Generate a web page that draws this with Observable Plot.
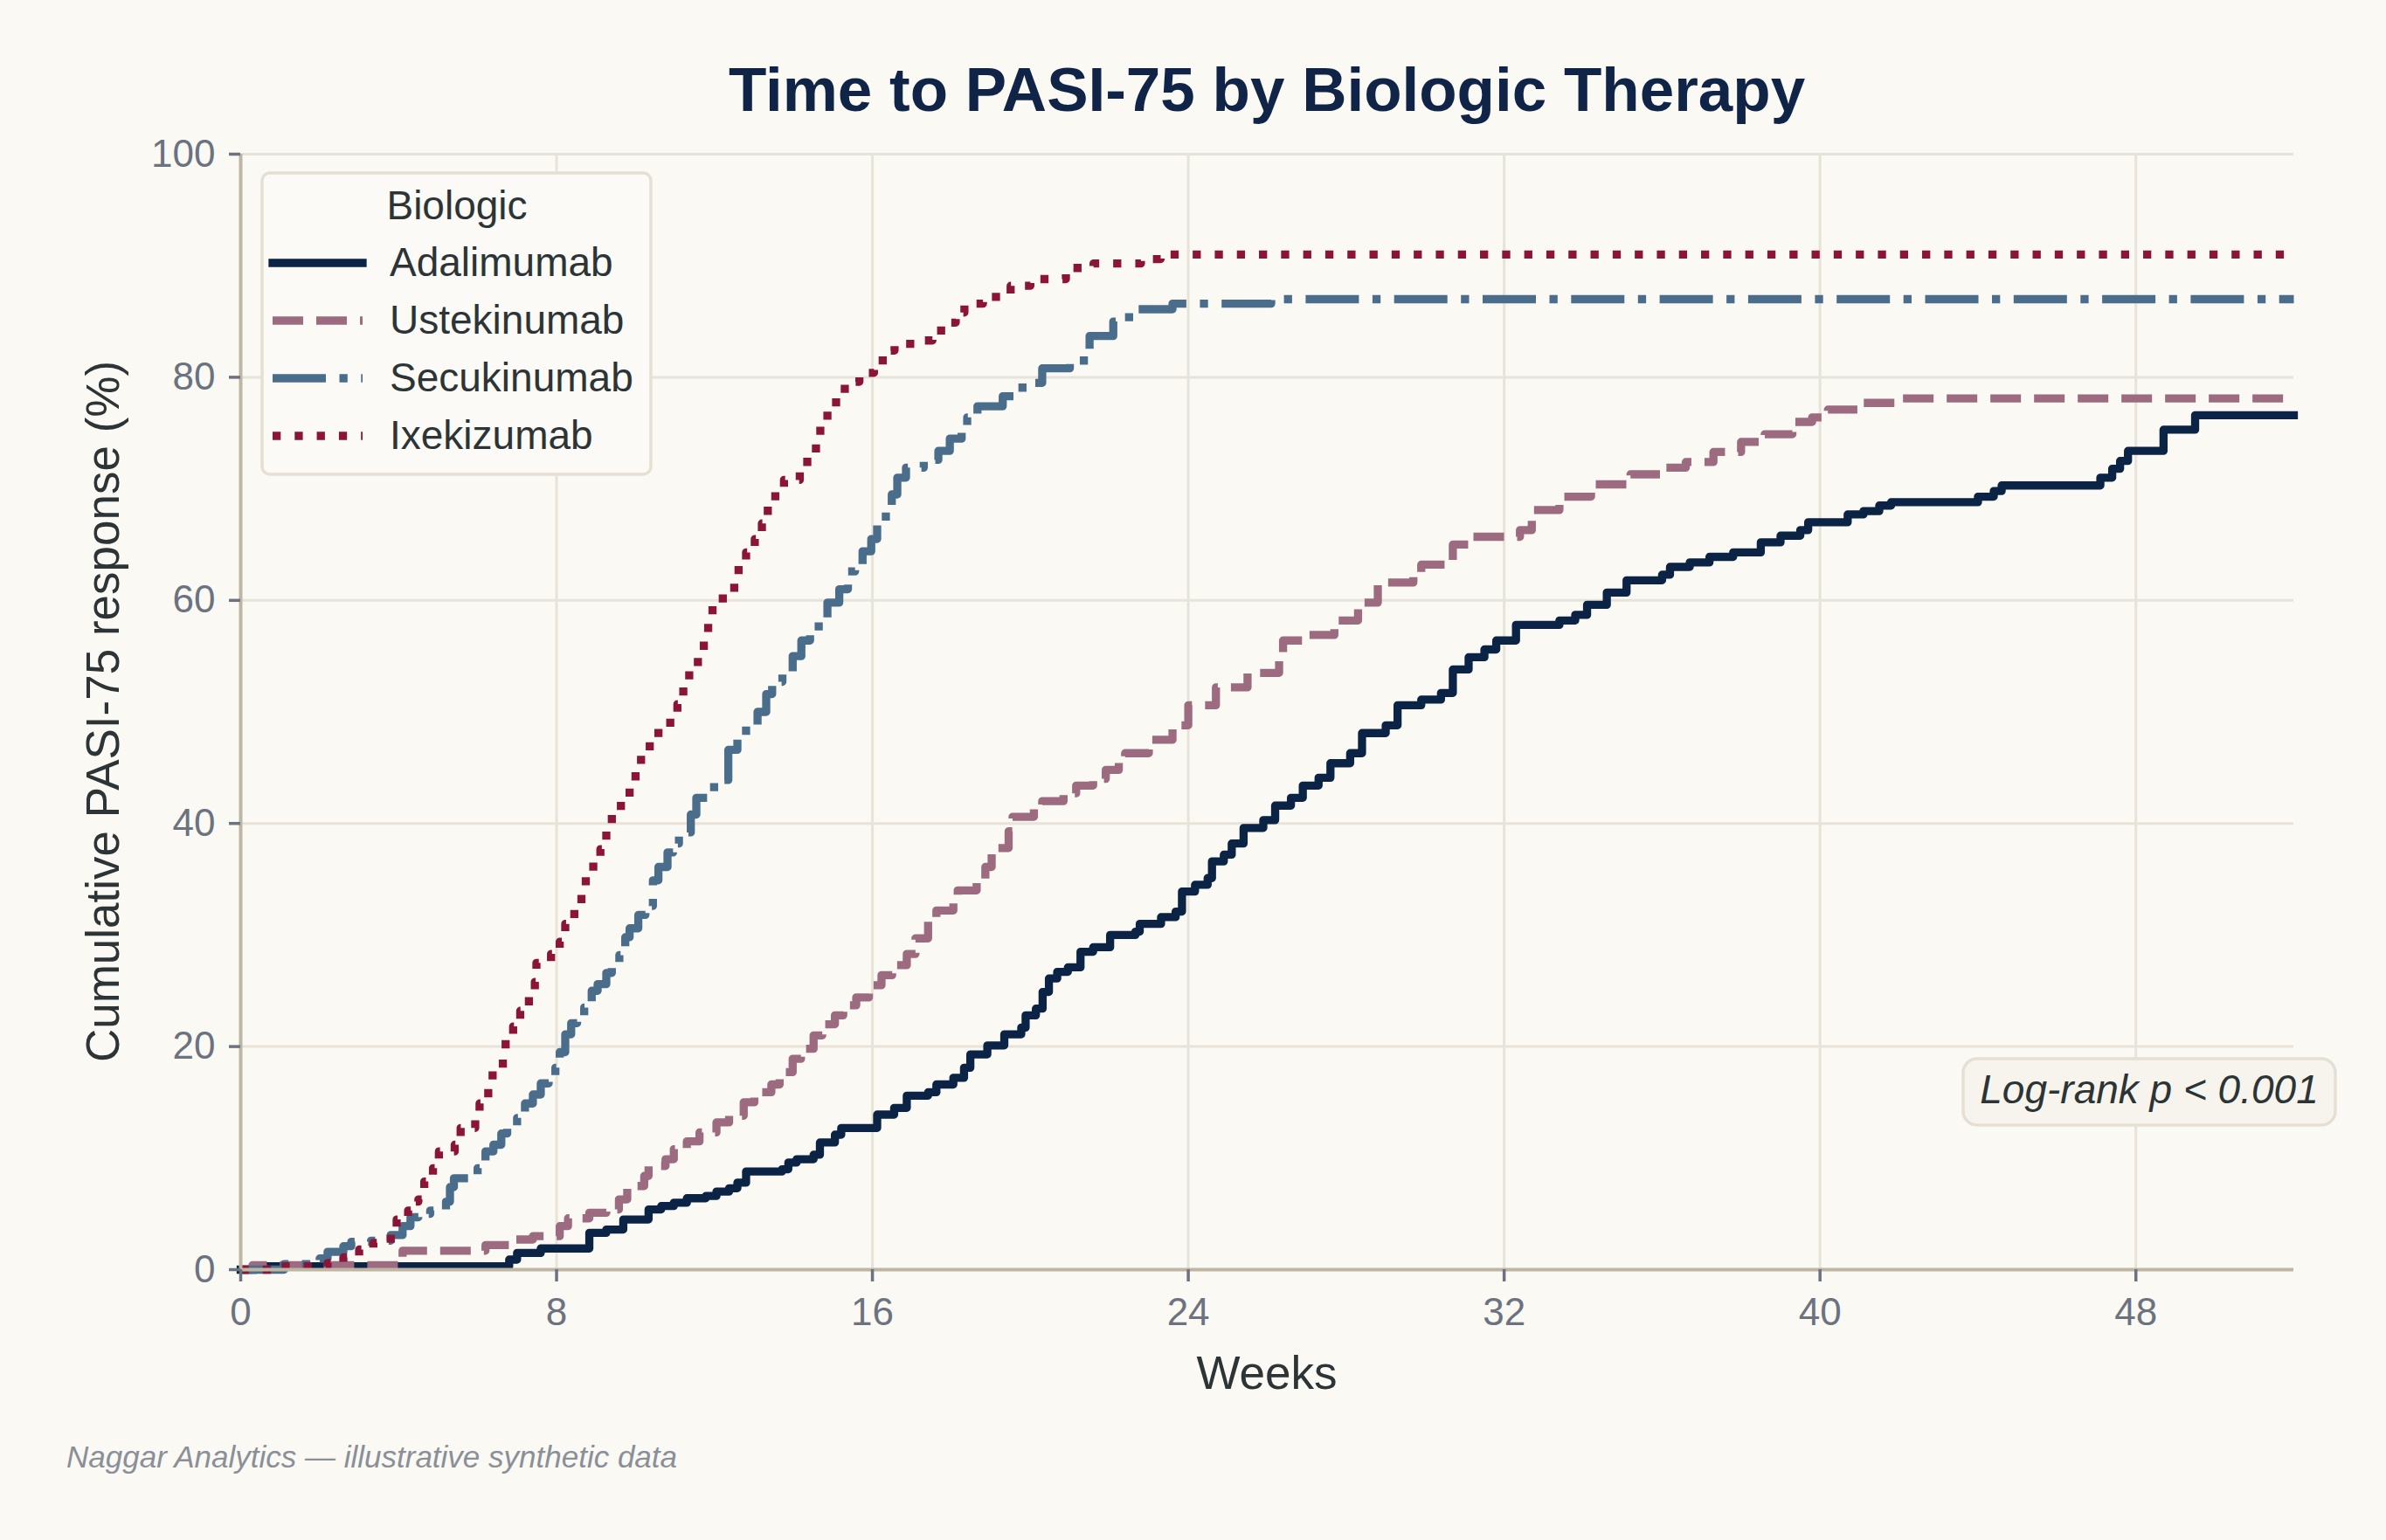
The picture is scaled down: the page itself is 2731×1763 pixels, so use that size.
<!DOCTYPE html>
<html><head><meta charset="utf-8">
<script src="https://cdn.jsdelivr.net/npm/d3@7"></script>
<script src="https://cdn.jsdelivr.net/npm/@observablehq/plot@0.6"></script>
<style>
html,body{margin:0;padding:0;background:#faf9f4;overflow:hidden;}
#chart svg{display:block;}
</style></head><body><div id="chart"></div>
<script>
// ---------- data ----------
const seriesNames = ["Adalimumab", "Ustekinumab", "Secukinumab", "Ixekizumab"];

const adalimumabWeeks = [0,0.4,6.8,7.0,7.6,8.83,9.26,9.69,10.33,10.65,10.97,11.3,11.78,12.05,12.37,12.58,12.8,13.71,13.87,14.08,14.51,14.67,15.05,15.21,16.12,16.55,16.87,17.41,17.62,18.05,18.32,18.48,18.91,19.34,19.77,19.88,20.14,20.31,20.47,20.68,20.95,21.27,21.59,22.02,22.66,22.77,23.31,23.68,23.84,24.17,24.49,24.6,24.9,25.1,25.4,25.9,26.2,26.6,26.9,27.3,27.6,28.1,28.4,29.0,29.3,29.9,30.4,30.7,31.1,31.5,31.8,32.3,33.4,33.8,34.1,34.6,35.1,36.0,36.2,36.7,37.2,37.8,38.5,39.0,39.5,39.7,40.7,41.1,41.5,41.8,44.0,44.4,44.6,47.1,47.4,47.6,47.8,48.7,49.5,52];
const adalimumabPct   = [0,0.3,0.9,1.5,1.9,3.3,3.6,4.5,5.4,5.7,6.0,6.4,6.6,7.0,7.3,7.8,8.8,9.0,9.6,9.9,10.3,11.4,12.1,12.7,13.9,14.5,15.6,15.9,16.6,17.2,18.1,19.3,20.1,21.1,21.7,22.8,23.4,24.9,26.1,26.7,27.1,28.5,28.9,30.0,30.3,31.0,31.6,32.1,33.9,34.5,35.1,36.6,37.2,38.2,39.6,40.3,41.6,42.3,43.4,44.1,45.4,46.3,48.1,48.8,50.6,51.1,51.7,53.8,54.9,55.6,56.4,57.8,58.2,58.7,59.6,60.7,61.8,62.3,63.0,63.4,63.9,64.3,65.2,65.8,66.3,67.0,67.7,68.0,68.5,68.8,69.3,69.8,70.3,71.0,71.8,72.5,73.4,75.3,76.6,76.6];

const ustekinumabWeeks = [0,0.3,4.1,6.2,6.8,7.4,8.08,8.29,8.83,9.26,9.58,9.79,10.22,10.33,10.76,10.97,11.3,11.62,12.05,12.37,12.74,13.01,13.44,13.65,13.98,14.19,14.51,14.73,15.05,15.26,15.59,15.91,16.23,16.5,16.87,17.09,17.41,17.62,18.05,18.16,18.64,18.86,19.02,19.45,19.55,20.09,20.3,20.84,21.16,21.59,21.91,22.24,22.4,23.0,23.6,24.0,24.7,25.5,26.3,26.4,26.9,27.7,28.3,28.8,29.7,29.9,30.6,30.7,31.1,32.4,32.7,33.4,34.2,35.2,36.0,36.6,37.3,38.0,38.6,39.3,39.8,40.2,41.0,42.0,52];
const ustekinumabPct   = [0,0.4,1.7,2.2,2.7,3.0,3.9,4.6,5.1,5.4,6.3,7.5,8.4,9.3,9.9,10.8,11.5,12.3,13.2,13.8,15.0,15.9,16.6,17.7,18.9,19.8,21.0,22.0,22.8,23.7,24.4,25.5,26.4,27.3,28.3,29.7,31.2,32.2,33.0,34.0,34.8,36.1,37.8,39.3,40.6,41.4,42.0,42.7,43.4,44.0,44.8,45.8,46.3,47.5,48.8,50.6,52.2,53.5,55.1,56.4,56.9,58.2,59.8,61.6,62.5,63.2,63.6,65.0,65.7,66.3,68.1,69.3,70.4,71.3,71.9,72.4,73.3,74.2,74.9,76.0,76.4,77.1,77.7,78.1,78.1];

const secukinumabWeeks = [0,1.1,2.0,2.2,2.6,2.8,3.3,3.8,4.1,4.3,4.5,4.8,5.2,5.3,5.4,6.0,6.2,6.4,6.6,6.75,7.0,7.2,7.4,7.6,7.8,7.97,8.08,8.22,8.37,8.52,8.7,8.89,9.04,9.26,9.4,9.59,9.74,9.85,10.07,10.25,10.44,10.58,10.81,10.95,11.1,11.4,11.54,11.99,12.35,12.58,12.8,13.09,13.31,13.46,13.72,13.98,14.2,14.42,14.64,14.86,15.16,15.38,15.56,15.75,15.97,16.12,16.34,16.49,16.63,16.85,17.3,17.67,17.96,18.26,18.4,18.66,19.3,19.8,20.3,21.0,21.5,22.1,22.5,23.6,26.1,52];
const secukinumabPct   = [0,0.5,1.0,1.6,2.1,2.5,2.6,3.1,3.9,4.7,5.0,5.3,6.1,7.4,8.2,9.1,10.6,11.2,12.2,12.8,13.6,14.9,15.7,16.7,17.0,18.1,19.5,21.1,22.1,22.7,23.5,25.0,25.6,26.6,27.5,28.2,29.8,30.6,31.8,32.6,34.9,36.1,37.4,38.2,39.2,40.8,42.3,43.9,46.6,47.6,48.7,50.0,51.6,52.7,53.6,55.0,56.4,57.0,58.1,59.8,61.0,62.6,63.0,64.4,65.5,66.8,68.0,69.5,71.0,71.9,72.6,73.4,74.5,75.4,76.4,77.4,78.3,79.5,80.8,81.5,83.7,85.0,86.1,86.6,87.0,87.0];

const ixekizumabWeeks = [0,1.0,2.2,2.6,3.0,3.36,3.8,3.95,4.24,4.32,4.5,4.65,4.87,5.02,5.42,5.57,5.94,6.05,6.27,6.38,6.64,6.71,6.9,7.08,7.3,7.45,7.49,7.86,8.08,8.22,8.45,8.63,8.74,8.93,9.11,9.26,9.4,9.63,9.85,10.0,10.14,10.36,10.58,10.88,11.06,11.21,11.36,11.58,11.73,11.84,11.95,12.21,12.5,12.61,12.8,13.02,13.2,13.35,13.54,13.76,14.16,14.35,14.57,14.68,14.86,15.08,15.3,15.67,16.04,16.26,16.56,17.08,17.52,17.74,18.11,18.33,18.8,19.5,20.0,20.9,21.6,22.8,23.3,52];
const ixekizumabPct   = [0,0.3,0.6,1.1,1.8,2.4,3.2,4.5,5.3,6.1,6.3,7.9,9.1,10.6,11.2,12.7,13.5,14.9,16.2,17.9,18.9,20.6,21.8,23.2,24.5,25.8,27.5,28.3,29.4,31.0,32.5,33.6,35.3,36.5,37.7,39.3,40.9,42.1,43.2,44.8,46.3,47.3,48.5,49.4,50.7,52.2,53.8,55.0,56.5,57.9,59.6,60.6,61.7,63.2,64.3,65.5,66.9,68.6,69.9,70.8,71.7,72.9,74.2,75.9,77.1,78.4,79.6,80.4,81.0,82.4,83.0,83.3,83.8,84.9,85.8,86.6,87.2,88.2,88.8,89.8,90.2,90.6,91.0,91.0];

const xTicks = [0, 8, 16, 24, 32, 40, 48];
const yTicks = [0, 20, 40, 60, 80, 100];

const titleText = "Time to PASI-75 by Biologic Therapy";
const xLabel = "Weeks";
const yLabel = "Cumulative PASI-75 response (%)";
const legendTitle = "Biologic";
const noteText = "Log-rank p < 0.001";
const captionText = "Naggar Analytics \u2014 illustrative synthetic data";

// ---------- build table ----------
const weekArrays = [adalimumabWeeks, ustekinumabWeeks, secukinumabWeeks, ixekizumabWeeks];
const pctArrays = [adalimumabPct, ustekinumabPct, secukinumabPct, ixekizumabPct];
const rows = seriesNames.flatMap((name, i) =>
  weekArrays[i].map((w, j) => ({series: name, week: w, pct: pctArrays[i][j]})));

// ---------- styles ----------
const W = 2731, H = 1763;
const mL = 275, mR = 106, mT = 176, mB = 310;
const FONT = "'Liberation Sans', Arial, Helvetica, sans-serif";
const lineColor = {Adalimumab: "#0b2344", Ustekinumab: "#9c6b7f", Secukinumab: "#4a6d8c", Ixekizumab: "#8b1538"};
const lineDash = {Adalimumab: null, Ustekinumab: "35,15", Secukinumab: "61,15.5,9.3,15.5", Ixekizumab: "9.3,16"};
const LW = 9.3;
const gridColor = "#e8e3d9";
const spineColor = "#bfb5a3";
const tickColor = "#6b7280";
const textDark = "#2d3436";

const lineMarks = seriesNames.map(name => Plot.line(rows.filter(d => d.series === name), {
  x: "week", y: "pct", curve: "step-after",
  stroke: lineColor[name], strokeWidth: LW,
  strokeDasharray: lineDash[name] || undefined,
  strokeLinejoin: "round",
  strokeLinecap: lineDash[name] ? "butt" : "square"
}));

const plot = Plot.plot({
  width: W, height: H,
  marginLeft: mL, marginRight: mR, marginTop: mT, marginBottom: mB,
  style: {background: "transparent", fontFamily: FONT},
  x: {domain: [0, 52]},
  y: {domain: [0, 100]},
  marks: [
    Plot.gridX(xTicks, {stroke: gridColor, strokeOpacity: 1, strokeWidth: 3}),
    Plot.gridY(yTicks, {stroke: gridColor, strokeOpacity: 1, strokeWidth: 3}),
    ...lineMarks,
    Plot.ruleX([0], {stroke: spineColor, strokeWidth: 4}),
    Plot.ruleY([0], {stroke: spineColor, strokeWidth: 4}),
    Plot.axisX(xTicks, {tickSize: 14, tickPadding: 18, fontSize: 44, color: tickColor, strokeWidth: 3.5, label: null}),
    Plot.axisY(yTicks, {tickSize: 13, tickPadding: 16, fontSize: 44, color: tickColor, strokeWidth: 3.5, label: null})
  ]
});

document.getElementById("chart").appendChild(plot);

// ---------- annotations (title, labels, legend, note, caption) ----------
const svg = d3.select(plot);
const cx = mL + (W - mL - mR) / 2;
const cy = mT + (H - mT - mB) / 2;

svg.append("text").attr("x", cx).attr("y", 127).attr("text-anchor", "middle")
  .attr("font-family", FONT).attr("font-size", 71).attr("font-weight", "bold")
  .attr("fill", "#0f2447").text(titleText);

svg.append("text").attr("x", cx).attr("y", 1590).attr("text-anchor", "middle")
  .attr("font-family", FONT).attr("font-size", 53).attr("fill", textDark).text(xLabel);

svg.append("text").attr("transform", `translate(136,${cy}) rotate(-90)`).attr("text-anchor", "middle")
  .attr("font-family", FONT).attr("font-size", 53).attr("fill", textDark).text(yLabel);

// legend
const lg = svg.append("g");
lg.append("rect").attr("x", 300).attr("y", 198).attr("width", 445).attr("height", 345)
  .attr("rx", 9).attr("fill", "#fbfaf6").attr("stroke", "#e6e0d4").attr("stroke-width", 3.5);
lg.append("text").attr("x", 523).attr("y", 251).attr("text-anchor", "middle")
  .attr("font-family", FONT).attr("font-size", 46).attr("fill", textDark).text(legendTitle);
seriesNames.forEach((name, i) => {
  const yLine = 301 + i * 66;
  const l = lg.append("line").attr("x1", 312).attr("x2", 415).attr("y1", yLine).attr("y2", yLine)
    .attr("stroke", lineColor[name]).attr("stroke-width", LW)
    .attr("stroke-linecap", lineDash[name] ? "butt" : "square");
  if (lineDash[name]) l.attr("stroke-dasharray", lineDash[name]);
  lg.append("text").attr("x", 446).attr("y", yLine + 15).attr("text-anchor", "start")
    .attr("font-family", FONT).attr("font-size", 46).attr("fill", textDark).text(name);
});

// log-rank note
const ng = svg.append("g");
ng.append("rect").attr("x", 2247).attr("y", 1212).attr("width", 426).attr("height", 76)
  .attr("rx", 16).attr("fill", "#f6f4ed").attr("stroke", "#e6e0d4").attr("stroke-width", 3.5);
ng.append("text").attr("x", 2460).attr("y", 1263).attr("text-anchor", "middle")
  .attr("font-family", FONT).attr("font-size", 46).attr("font-style", "italic")
  .attr("fill", textDark).text(noteText);

// caption
svg.append("text").attr("x", 76).attr("y", 1680).attr("text-anchor", "start")
  .attr("font-family", FONT).attr("font-size", 35).attr("font-style", "italic")
  .attr("fill", "#8a8f98").text(captionText);
</script>
</body></html>
